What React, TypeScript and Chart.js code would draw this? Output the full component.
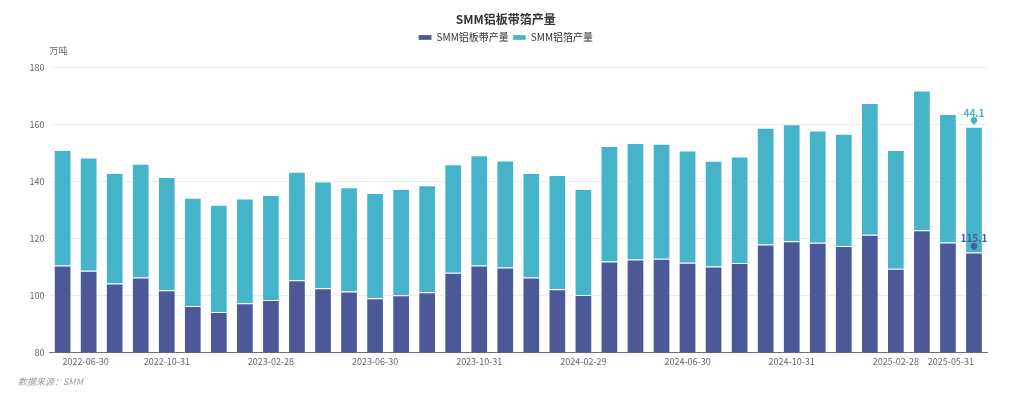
import React, { useEffect, useRef } from 'react';
import { Chart, registerables } from 'chart.js';

Chart.register(...registerables);

const FONT = '"Noto Sans CJK SC", "Noto Sans", sans-serif';

const chartTitle = 'SMM铝板带箔产量';
const unitLabel = '万吨';
const sourceLabel = '数据来源：SMM';
const seriesNames = ['SMM铝板带产量', 'SMM铝箔产量'];

const categories = [
  '2022-06-30', '2022-07-31', '2022-08-31', '2022-09-30', '2022-10-31', '2022-11-30', '2022-12-31',
  '2023-01-31', '2023-02-28', '2023-03-31', '2023-04-30', '2023-05-31', '2023-06-30', '2023-07-31',
  '2023-08-31', '2023-09-30', '2023-10-31', '2023-11-30', '2023-12-31', '2024-01-31', '2024-02-29',
  '2024-03-31', '2024-04-30', '2024-05-31', '2024-06-30', '2024-07-31', '2024-08-31', '2024-09-30',
  '2024-10-31', '2024-11-30', '2024-12-31', '2025-01-31', '2025-02-28', '2025-03-31', '2025-04-30',
  '2025-05-31',
];

const plateValues = [
  110.5, 108.7, 104.2, 106.3, 101.9, 96.3, 94.2, 97.3, 98.4, 105.4, 102.6, 101.4, 99.1, 100.1,
  101.2, 108.0, 110.5, 109.8, 106.3, 102.2, 100.2, 111.9, 112.6, 112.9, 111.5, 110.2, 111.4, 117.9,
  119.0, 118.5, 117.4, 121.3, 109.4, 122.9, 118.6, 115.1,
];

const foilValues = [
  40.5, 39.7, 38.8, 39.9, 39.7, 38.0, 37.6, 36.7, 36.9, 38.0, 37.4, 36.6, 36.9, 37.3,
  37.5, 38.0, 38.7, 37.6, 36.7, 40.1, 37.2, 40.5, 40.9, 40.3, 39.4, 37.1, 37.4, 40.9,
  41.1, 39.4, 39.3, 46.2, 41.6, 49.0, 45.1, 44.1,
];

const shownTickIndices = [0, 4, 8, 12, 16, 20, 24, 28, 32, 35];
const yMin = 80;
const yMax = 180;
const yStep = 20;

const plateColor = '#4c5898';
const foilColor = '#45b4cb';

const LEGEND_GAP = 15;

const extrasPlugin = {
  id: 'extras',
  beforeInit(chart: any) {
    const lg = chart.legend;
    if (lg && !lg.__patched) {
      const orig = lg.fit;
      lg.fit = function () {
        orig.call(this);
        this.height += LEGEND_GAP;
      };
      lg.__patched = true;
    }
  },
  afterDraw(chart: any) {
    const { ctx, chartArea, scales } = chart;
    const x = scales.x;
    const y = scales.y;
    ctx.save();
    ctx.textBaseline = 'middle';
    ctx.textAlign = 'left';
    ctx.fillStyle = '#666';
    ctx.font = `9px ${FONT}`;
    ctx.fillText(unitLabel, chartArea.left, 51);

    ctx.fillStyle = '#999';
    ctx.font = `italic 9px ${FONT}`;
    ctx.fillText(sourceLabel, 18, 382);

    const last = categories.length - 1;
    const px = x.getPixelForValue(last);
    const drawPin = (top: number, color: string, text: string) => {
      ctx.fillStyle = color;
      ctx.beginPath();
      ctx.arc(px, top - 6.5, 3.2, 0, Math.PI * 2);
      ctx.fill();
      ctx.beginPath();
      ctx.moveTo(px - 2.7, top - 5);
      ctx.lineTo(px + 2.7, top - 5);
      ctx.lineTo(px, top - 2);
      ctx.closePath();
      ctx.fill();
      ctx.font = `bold 10px ${FONT}`;
      ctx.textAlign = 'center';
      ctx.fillText(text, px, top - 14);
    };
    drawPin(y.getPixelForValue(plateValues[last]), plateColor, plateValues[last].toFixed(1));
    drawPin(y.getPixelForValue(plateValues[last] + foilValues[last]), foilColor, foilValues[last].toFixed(1));
    ctx.restore();
  },
};

export default function App() {
  const canvasRef = useRef<HTMLCanvasElement | null>(null);

  useEffect(() => {
    if (!canvasRef.current) return;
    Chart.defaults.font.family = FONT;
    const chart = new Chart(canvasRef.current, {
      type: 'bar',
      data: {
        labels: categories,
        datasets: [
          {
            label: seriesNames[0],
            data: plateValues,
            backgroundColor: plateColor,
            borderColor: 'rgba(255,255,255,0.3)',
            borderWidth: 1,
            barPercentage: 0.68,
            categoryPercentage: 1,
          },
          {
            label: seriesNames[1],
            data: foilValues,
            backgroundColor: foilColor,
            borderColor: 'rgba(255,255,255,0.3)',
            borderWidth: 1,
            barPercentage: 0.68,
            categoryPercentage: 1,
          },
        ],
      },
      options: {
        animation: false,
        responsive: true,
        maintainAspectRatio: false,
        layout: { padding: { left: 24.6, right: 37, top: 0, bottom: 27.6 } },
        plugins: {
          title: {
            display: true,
            text: chartTitle,
            color: '#333',
            font: { size: 12, weight: 'bold', family: FONT },
            padding: { top: 12, bottom: 2 },
          },
          legend: {
            display: true,
            position: 'top',
            labels: {
              boxWidth: 13,
              boxHeight: 5,
              padding: 4,
              color: '#333',
              font: { size: 10, family: FONT },
            },
          },
          tooltip: { enabled: false },
        },
        scales: {
          x: {
            stacked: true,
            grid: { display: false, drawTicks: false },
            border: { display: true, color: '#6e7079', width: 1 },
            ticks: {
              autoSkip: false,
              maxRotation: 0,
              minRotation: 0,
              align: 'inner',
              padding: 4,
              color: '#666',
              font: { size: 9, family: FONT },
              callback: (_v: any, i: number) => (shownTickIndices.includes(i) ? categories[i] : ''),
            },
          },
          y: {
            stacked: true,
            min: yMin,
            max: yMax,
            grid: { color: '#ececec', drawTicks: false },
            border: { display: false },
            ticks: {
              stepSize: yStep,
              padding: 5,
              color: '#666',
              font: { size: 9, family: FONT },
            },
          },
        },
      } as any,
      plugins: [extrasPlugin],
    });
    return () => chart.destroy();
  }, []);

  return (
    <div style={{ position: 'fixed', left: 0, top: 0, width: 1024, height: 399, background: '#fff' }}>
      <canvas ref={canvasRef} />
    </div>
  );
}
